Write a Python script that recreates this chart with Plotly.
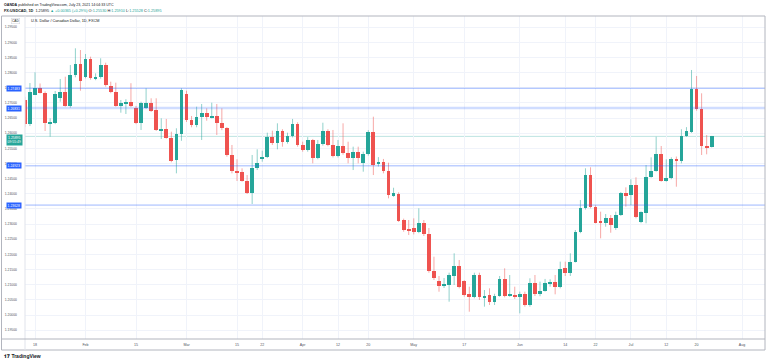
import pandas as pd
import plotly.graph_objects as go

# ---- data (USDCAD daily, FXCM) ----
dates = list(pd.bdate_range("2021-01-14", "2021-07-23") + pd.Timedelta(hours=12))

opens = [1.27100, 1.26300, 1.27277, 1.27508, 1.27343, 1.26326, 1.26346, 1.27152, 1.27370, 1.26908,
         1.27931, 1.28284, 1.27865, 1.28449, 1.27789, 1.27845, 1.28250, 1.27558, 1.27370, 1.26908,
         1.26990, 1.27040, 1.26842, 1.26326, 1.26842, 1.27007, 1.26766, 1.26100, 1.26129, 1.25852,
         1.25116, 1.25964, 1.27284, 1.26436, 1.26260, 1.26524, 1.26677, 1.26524, 1.26568, 1.26326,
         1.26162, 1.25281, 1.24752, 1.24710, 1.24422, 1.24036, 1.24840, 1.25171, 1.25225, 1.25885,
         1.25687, 1.26083, 1.25700, 1.25908, 1.26294, 1.25611, 1.25446, 1.25776, 1.25171, 1.25633,
         1.26073, 1.25611, 1.25248, 1.25578, 1.25336, 1.25191, 1.25390, 1.25026, 1.25303, 1.26029,
         1.24973, 1.25040, 1.24752, 1.23960, 1.23983, 1.23135, 1.22828, 1.22860, 1.22728, 1.23026,
         1.22663, 1.21462, 1.21132, 1.20967, 1.20990, 1.21297, 1.21617, 1.21132, 1.20683, 1.20604,
         1.21320, 1.20584, 1.20660, 1.20419, 1.20637, 1.21188, 1.20637, 1.20660, 1.20584, 1.20693,
         1.20330, 1.21046, 1.20683, 1.20804, 1.21046, 1.21100, 1.20934, 1.21560, 1.21375, 1.21760,
         1.22749, 1.23521, 1.24620, 1.23575, 1.23080, 1.23046, 1.23201, 1.22860, 1.23300, 1.24016,
         1.23960, 1.24290, 1.23080, 1.23376, 1.24564, 1.24762, 1.25303, 1.24432, 1.24531, 1.25138,
         1.25083, 1.25917, 1.26050, 1.27450, 1.26790, 1.25578, 1.25530]

highs = [1.27200, 1.27656, 1.28010, 1.27640, 1.27380, 1.26492, 1.27393, 1.27789, 1.27865, 1.28250,
         1.28802, 1.28746, 1.28614, 1.28525, 1.27977, 1.28472, 1.28327, 1.27700, 1.27667, 1.27096,
         1.27120, 1.27650, 1.26900, 1.27040, 1.27483, 1.27152, 1.27152, 1.26492, 1.26470, 1.26050,
         1.26162, 1.27483, 1.27403, 1.26568, 1.26875, 1.26964, 1.26820, 1.27007, 1.26964, 1.26820,
         1.26200, 1.25611, 1.25140, 1.24840, 1.24620, 1.25281, 1.25468, 1.25422, 1.26017, 1.26083,
         1.26326, 1.26130, 1.26017, 1.26470, 1.26360, 1.25720, 1.25870, 1.25810, 1.25776, 1.26346,
         1.26130, 1.26106, 1.25776, 1.26326, 1.25720, 1.25555, 1.25555, 1.25390, 1.26100, 1.26545,
         1.25210, 1.25150, 1.25026, 1.24200, 1.24050, 1.23180, 1.23135, 1.23190, 1.23520, 1.23135,
         1.22871, 1.21924, 1.21287, 1.21221, 1.21396, 1.22036, 1.21815, 1.21150, 1.20934, 1.21396,
         1.21396, 1.20825, 1.20880, 1.20700, 1.21287, 1.21540, 1.21320, 1.20934, 1.20770, 1.20770,
         1.21211, 1.21320, 1.21100, 1.21190, 1.21180, 1.21320, 1.21760, 1.21760, 1.22036, 1.22805,
         1.23795, 1.24842, 1.24875, 1.23620, 1.23410, 1.23333, 1.23300, 1.23410, 1.24060, 1.24214,
         1.24478, 1.24544, 1.23420, 1.24950, 1.25204, 1.25884, 1.25578, 1.25138, 1.25204, 1.25230,
         1.26130, 1.26200, 1.28086, 1.27888, 1.27317, 1.25940, 1.25910]

lows = [1.26200, 1.26237, 1.27260, 1.27310, 1.26073, 1.25885, 1.26300, 1.27040, 1.26875, 1.26842,
        1.27845, 1.27402, 1.27812, 1.27766, 1.27750, 1.27800, 1.27535, 1.27320, 1.26875, 1.26677,
        1.26634, 1.26860, 1.26300, 1.26106, 1.26800, 1.26700, 1.26073, 1.25810, 1.25820, 1.25040,
        1.24676, 1.25750, 1.26370, 1.26195, 1.26195, 1.25776, 1.26413, 1.26490, 1.25941, 1.26100,
        1.25225, 1.24676, 1.24422, 1.24400, 1.23993, 1.23663, 1.24785, 1.25060, 1.25180, 1.25611,
        1.25468, 1.25555, 1.25655, 1.25860, 1.25555, 1.25390, 1.25390, 1.25006, 1.25140, 1.25590,
        1.25570, 1.25200, 1.25200, 1.25290, 1.25006, 1.24785, 1.25006, 1.24730, 1.25260, 1.24620,
        1.24900, 1.24676, 1.23850, 1.23900, 1.23070, 1.22750, 1.22640, 1.22660, 1.22700, 1.22607,
        1.21396, 1.21155, 1.20769, 1.20891, 1.20439, 1.20990, 1.20880, 1.20604, 1.20109, 1.20550,
        1.20495, 1.20275, 1.20330, 1.20330, 1.20600, 1.20583, 1.20600, 1.20530, 1.20055, 1.20275,
        1.20275, 1.20627, 1.20620, 1.20770, 1.20934, 1.20683, 1.20880, 1.21287, 1.21287, 1.21733,
        1.22700, 1.23480, 1.23521, 1.23026, 1.22530, 1.22914, 1.22716, 1.22810, 1.23267, 1.23575,
        1.23630, 1.23190, 1.23030, 1.23026, 1.24530, 1.24730, 1.24400, 1.24400, 1.24480, 1.24234,
        1.25006, 1.25880, 1.26010, 1.26743, 1.25281, 1.25303, 1.25528]

closes = [1.26300, 1.27370, 1.27508, 1.27343, 1.26326, 1.26379, 1.27310, 1.27370, 1.26908, 1.27931,
          1.28284, 1.27733, 1.28449, 1.27832, 1.27845, 1.28250, 1.27591, 1.27370, 1.26908, 1.27007,
          1.27040, 1.26898, 1.26326, 1.27007, 1.27007, 1.26743, 1.26106, 1.26140, 1.25852, 1.25092,
          1.25964, 1.27426, 1.26436, 1.26260, 1.26545, 1.26677, 1.26524, 1.26578, 1.26326, 1.26162,
          1.25281, 1.24752, 1.24710, 1.24422, 1.24036, 1.24851, 1.25026, 1.25225, 1.25885, 1.25687,
          1.26083, 1.25720, 1.25908, 1.26294, 1.25611, 1.25446, 1.25776, 1.25171, 1.25644, 1.26073,
          1.25611, 1.25248, 1.25578, 1.25336, 1.25191, 1.25390, 1.25171, 1.25303, 1.26029, 1.24951,
          1.25040, 1.24752, 1.23960, 1.24016, 1.23112, 1.22805, 1.22782, 1.22728, 1.23026, 1.22663,
          1.21452, 1.21230, 1.20967, 1.21013, 1.21320, 1.21617, 1.20935, 1.20660, 1.20604, 1.21320,
          1.20584, 1.20627, 1.20419, 1.20637, 1.21188, 1.20637, 1.20683, 1.20584, 1.20693, 1.20330,
          1.21046, 1.20683, 1.20804, 1.21046, 1.21100, 1.20934, 1.21508, 1.21375, 1.21760, 1.22749,
          1.23521, 1.24620, 1.23575, 1.23046, 1.23046, 1.23201, 1.22970, 1.23300, 1.24016, 1.23960,
          1.24290, 1.23244, 1.23390, 1.24564, 1.24762, 1.25303, 1.24432, 1.24531, 1.25138, 1.25083,
          1.25917, 1.26083, 1.27450, 1.26790, 1.25578, 1.25530, 1.25895]

assert len(dates) == len(opens) == len(highs) == len(lows) == len(closes)

level_prices = [1.27483, 1.26831, 1.24923, 1.23628]
last_price = 1.25895

tick_dates = ["2021-01-18", "2021-02-01", "2021-02-15", "2021-03-01", "2021-03-15", "2021-03-22",
              "2021-04-01", "2021-04-12", "2021-04-20", "2021-05-03", "2021-05-17", "2021-06-01",
              "2021-06-14", "2021-06-22", "2021-07-01", "2021-07-12", "2021-07-20", "2021-08-02"]
tick_text = ["18", "Feb", "15", "Mar", "15", "22", "Apr", "12", "20", "May", "17", "Jun",
             "14", "22", "Jul", "12", "20", "Aug"]
price_ticks = [round(1.195 + 0.005 * k, 3) for k in range(21)]

# ---- styles ----
UP = "#26a69a"
DN = "#ef5350"
UP_W = "rgba(38,166,154,0.5)"
DN_W = "rgba(239,83,80,0.5)"
FONT = "Liberation Sans"
W, H = 768, 362
L, R, T, B = 25, 765, 16, 339


def px_x(x):
    return (x - L) / (R - L)


def px_y(y):
    return (B - y) / (B - T)


fig = go.Figure()

# wicks
for up, col in [(True, UP_W), (False, DN_W)]:
    xs, ys = [], []
    for d, o, h, l, c in zip(dates, opens, highs, lows, closes):
        if (c >= o) == up:
            xs += [d, d, None]
            ys += [l, h, None]
    fig.add_trace(go.Scatter(x=xs, y=ys, mode="lines", line=dict(color=col, width=1),
                             hoverinfo="skip", showlegend=False))

# bodies
base = [min(o, c) for o, c in zip(opens, closes)]
height = [max(abs(c - o), 0.00025) for o, c in zip(opens, closes)]
colors = [UP if c >= o else DN for o, c in zip(opens, closes)]
fig.add_trace(go.Bar(x=dates, y=height, base=base, marker=dict(color=colors, line=dict(width=0)),
                     width=0.74 * 86400000, hoverinfo="skip", showlegend=False))

shapes = []
# horizontal level lines
for i, p in enumerate(level_prices):
    if i == 1:
        shapes.append(dict(type="line", xref="paper", yref="y", x0=0, x1=1, y0=p, y1=p,
                           line=dict(color="rgba(41,98,255,0.22)", width=2.5), layer="above"))
    else:
        shapes.append(dict(type="line", xref="paper", yref="y", x0=0, x1=1, y0=p, y1=p,
                           line=dict(color="rgba(41,98,255,0.45)", width=1), layer="above"))
# last price line
shapes.append(dict(type="line", xref="paper", yref="y", x0=0, x1=1, y0=last_price, y1=last_price,
                   line=dict(color="rgba(38,166,154,0.3)", width=1), layer="below"))
# frame
BC = "#b2b5be"
shapes.append(dict(type="rect", xref="paper", yref="paper", x0=px_x(1.5), x1=px_x(765),
                   y0=px_y(350), y1=px_y(16), line=dict(color=BC, width=1)))
shapes.append(dict(type="line", xref="paper", yref="paper", x0=0, x1=0,
                   y0=px_y(350), y1=1, line=dict(color="#e0e3eb", width=1)))
shapes.append(dict(type="line", xref="paper", yref="paper", x0=px_x(1.5), x1=1,
                   y0=0, y1=0, line=dict(color=BC, width=1)))

ann = []
# header
ann.append(dict(xref="paper", yref="paper", x=px_x(2), y=px_y(4.5), xanchor="left", yanchor="middle",
                showarrow=False, text="<b>OANDA</b> published on TradingView.com, July 23, 2021 14:04:33 UTC",
                font=dict(family=FONT, size=3.6, color="#131722")))
g = "<span style='color:#26a69a'>%s</span>"
hdr2 = ("<b>FX:USDCAD, 1D</b>  1.25895 " + g % "▲ +0.00365 (+0.29%)" + " O:" + g % "1.25530" +
        " H:" + g % "1.25910" + " L:" + g % "1.25528" + " C:" + g % "1.25895")
ann.append(dict(xref="paper", yref="paper", x=px_x(2), y=px_y(10.5), xanchor="left", yanchor="middle",
                showarrow=False, text=hdr2, font=dict(family=FONT, size=3.8, color="#131722")))
# title inside chart
ann.append(dict(xref="paper", yref="paper", x=px_x(29), y=px_y(20.5), xanchor="left", yanchor="middle",
                showarrow=False, text="U.S. Dollar / Canadian Dollar, 1D, FXCM",
                font=dict(family=FONT, size=3.8, color="#131722")))
ann.append(dict(xref="paper", yref="paper", x=px_x(15), y=px_y(20.5), xanchor="center", yanchor="middle",
                showarrow=False, text="CAD", bordercolor="#d1d4dc", borderwidth=0.5, borderpad=0.5,
                font=dict(family=FONT, size=3.2, color="#131722")))
# level labels
for p in level_prices:
    ann.append(dict(xref="paper", yref="y", x=0, y=p, xanchor="right", yanchor="middle", xshift=-3,
                    showarrow=False, text="%.5f" % p, bgcolor="#2962ff", borderpad=0.6,
                    font=dict(family=FONT, size=3.4, color="white")))
ann.append(dict(xref="paper", yref="y", x=0, y=last_price, xanchor="right", yanchor="top", xshift=-2,
                yshift=2.5, showarrow=False, text="1.25895<br>09:55:49", bgcolor=UP, borderpad=0.6,
                font=dict(family=FONT, size=3.4, color="white")))
# logo
ann.append(dict(xref="paper", yref="paper", x=px_x(2), y=px_y(356), xanchor="left", yanchor="middle",
                showarrow=False, text="<b>𝟏𝟕 TradingView</b>",
                font=dict(family=FONT, size=5, color="#131722")))

fig.update_layout(
    width=W, height=H,
    margin=dict(l=L, r=W - R, t=T, b=H - B),
    paper_bgcolor="white", plot_bgcolor="white",
    showlegend=False, barmode="overlay", bargap=0,
    shapes=shapes, annotations=ann,
    xaxis=dict(type="date", rangebreaks=[dict(bounds=["sat", "mon"])],
               range=["2021-01-14 12:29", "2021-08-09 01:12"],
               tickmode="array", tickvals=[pd.Timestamp(d) + pd.Timedelta(hours=12) for d in tick_dates],
               ticktext=tick_text, showgrid=True, gridcolor="#f0f3fa", gridwidth=1,
               zeroline=False, showline=False, ticks="", ticklabelstandoff=2,
               tickfont=dict(family=FONT, size=3.6, color="#50535e"), fixedrange=True),
    yaxis=dict(range=[1.19208, 1.29868], tickmode="array", tickvals=price_ticks,
               ticktext=["%.5f" % v for v in price_ticks], side="left",
               showgrid=True, gridcolor="#f0f3fa", gridwidth=1, zeroline=False, showline=False,
               ticks="", ticklabelstandoff=7,
               tickfont=dict(family=FONT, size=3.4, color="#50535e"), fixedrange=True),
)

fig.write_html("out.html", config={"displayModeBar": False},
               post_script="document.body.style.margin='0';document.body.style.overflow='hidden';")
